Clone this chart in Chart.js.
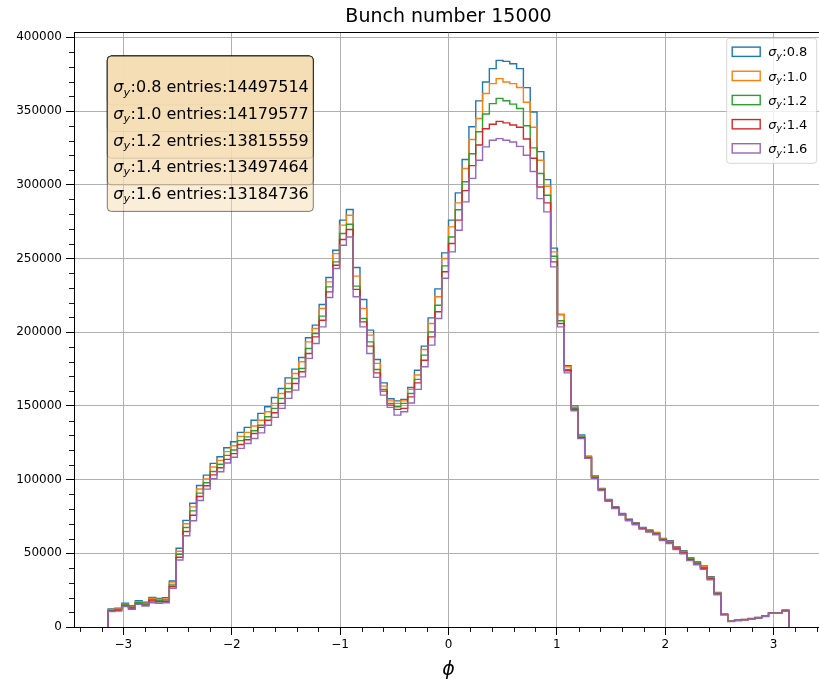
<!DOCTYPE html>
<html>
<head>
<meta charset="utf-8">
<script src="https://cdn.jsdelivr.net/npm/chart.js@4.4.1/dist/chart.umd.min.js"></script>
<style>
  html, body { margin: 0; padding: 0; background: #fff; overflow: hidden; }
  #wrap { position: absolute; left: 0; top: 0; width: 823px; height: 681px; }
</style>
</head>
<body>
<div id="wrap"><canvas id="hist" width="823" height="681"></canvas></div>
<script>
// histogram of phi, 100 bins over [-pi, pi]
const NBINS = 100;
const PHI_MIN = -Math.PI;
const PHI_MAX = Math.PI;

const titleText = "Bunch number 15000";
const sigmaLabels = ["0.8", "1.0", "1.2", "1.4", "1.6"];
const entries = ["14497514", "14179577", "13815559", "13497464", "13184736"];
const colors = ["#1f77b4", "#ff7f0e", "#2ca02c", "#d62728", "#9467bd"];

const xTicks = [-3, -2, -1, 0, 1, 2, 3];
const yTicks = [0, 50000, 100000, 150000, 200000, 250000, 300000, 350000, 400000];

const sigma08 = [12200,12700,16100,14500,17900,16800,20100,19400,19900,31200,
  53400,72300,83900,96000,103000,111000,115500,121600,125700,132000,
  135400,140300,144900,149400,155700,161800,169000,174900,182800,196200,
  204800,218800,237100,255600,276000,283200,243900,222200,201400,181500,
  165600,154800,153400,154400,162500,174200,190500,209700,229400,253800,
  276000,294500,317100,339300,356900,369700,378800,384400,383700,382100,
  378800,365900,349400,322500,303500,257000,212000,177200,150000,130200,
  115900,102400,94000,86600,81600,77100,73200,70700,67600,65800,
  64200,60100,58500,54400,51700,47000,44300,41400,34100,23500,
  8800,4000,4700,5200,5800,6500,7500,9700,9700,11500];

const sigma10 = [11700,12200,15400,14000,17100,16100,19300,18700,19100,29900,
  51400,70000,81500,93600,100500,108500,113000,119000,123000,129300,
  132000,136300,140300,146000,151700,158400,165200,172000,179900,193400,
  202500,216100,234100,253300,272600,279300,238000,216100,198000,178800,
  163400,153400,151700,153400,161200,170900,188200,205900,224000,250000,
  271400,287700,311000,330700,344900,361900,368600,372000,369700,368600,
  366000,356000,339000,316600,299000,254500,212000,176500,149000,129500,
  115500,102000,93600,86300,81300,76900,72900,70400,67400,65500,
  63900,59800,58100,54100,51300,46600,43900,40900,33600,23100,
  8700,3900,4600,5100,5700,6400,7400,9600,9600,11300];

const sigma12 = [11200,11800,14900,13400,16500,15400,18500,17900,18300,28500,
  49400,67500,78800,90800,97900,105500,110400,116400,120100,126400,
  129000,133100,136900,142600,148300,155100,161800,168600,175400,188900,
  199100,210900,230700,247700,266900,273200,231200,209300,193400,174700,
  161200,151700,149400,151700,158400,168000,184400,200200,218300,245000,
  264600,283000,302000,321000,336000,348000,355000,358600,357000,354700,
  351700,340000,325000,307600,292900,251500,207700,174700,148300,129000,
  115000,101600,93300,86000,81000,76600,72700,70100,67100,65200,
  63500,59400,57600,53600,50800,46100,43400,40300,33100,22700,
  8500,3900,4500,5000,5600,6300,7300,9500,9500,11100];

const sigma14 = [10800,11300,14300,12700,15800,14700,17600,17100,17400,27300,
  47300,64800,75800,88500,95800,103200,108000,113700,117600,123800,
  127000,131300,135400,140300,145300,151700,159500,165200,173100,185500,
  196800,208100,227300,245400,262900,269600,229000,207000,190500,172400,
  160000,150500,147600,148300,156100,165600,181000,196800,213800,241000,
  260100,276000,296000,313000,327000,338000,341000,343000,342000,340500,
  339000,331000,318000,298500,287700,247700,205900,173800,147600,128400,
  114700,101200,92900,85700,80700,76300,72400,69800,66800,64800,
  63100,59000,57100,53100,50200,45600,42800,39700,32600,22300,
  8400,3800,4400,4900,5500,6200,7200,9400,9400,10900];

const sigma16 = [10400,10800,13800,12000,15400,14200,16500,16100,16500,26200,
  45400,61900,72100,85800,93500,100600,105300,111200,115100,121200,
  124500,127900,131700,136900,142200,148300,155100,160700,169700,182200,
  192300,203600,223500,243200,259000,264600,224000,203600,185500,169300,
  157300,149000,143700,146000,152000,161200,176500,191200,209300,236600,
  254500,269100,288400,304300,316600,325700,330200,331300,330200,329000,
  326000,320000,309000,290600,281600,244300,203600,172400,146700,127800,
  114400,100800,92500,85300,80300,76000,72100,69400,66400,64400,
  62600,58600,56600,52600,49600,45000,42200,39100,32000,21900,
  8200,3700,4300,4800,5400,6100,7100,9300,9300,10700];

const series = [sigma08, sigma10, sigma12, sigma14, sigma16];

const edges = Array.from({ length: NBINS + 1 }, (_, i) => PHI_MIN + i * (PHI_MAX - PHI_MIN) / NBINS);

// outline like matplotlib histtype="step": up at the first edge, down at the last
function stepPoints(values) {
  const pts = [{ x: edges[0], y: 0 }];
  values.forEach((v, i) => pts.push({ x: edges[i], y: v }));
  pts.push({ x: edges[NBINS], y: 0 });
  return pts;
}

const xMargin = 0.05 * (PHI_MAX - PHI_MIN);
const yMax = 1.05 * Math.max(...series.map(s => Math.max(...s)));

function fmtTick(v) {
  return v < 0 ? "\u2212" + Math.abs(v) : String(v);
}

// sigma_y label the way mathtext draws it
function drawSigma(ctx, x, y, size, rest) {
  ctx.textAlign = "left";
  ctx.textBaseline = "alphabetic";
  const base = y + size * 0.36;
  ctx.font = "italic " + size + "px 'DejaVu Sans'";
  ctx.fillText("\u03c3", x, base);
  x += ctx.measureText("\u03c3").width;
  const sub = size * 0.7;
  ctx.font = "italic " + sub + "px 'DejaVu Sans'";
  ctx.fillText("y", x, base + size * 0.2);
  x += ctx.measureText("y").width + 0.5;
  ctx.font = size + "px 'DejaVu Sans'";
  ctx.fillText(rest, x, base);
}

function roundRect(ctx, x, y, w, h, r) {
  ctx.beginPath();
  ctx.moveTo(x + r, y);
  ctx.lineTo(x + w - r, y);
  ctx.quadraticCurveTo(x + w, y, x + w, y + r);
  ctx.lineTo(x + w, y + h - r);
  ctx.quadraticCurveTo(x + w, y + h, x + w - r, y + h);
  ctx.lineTo(x + r, y + h);
  ctx.quadraticCurveTo(x, y + h, x, y + h - r);
  ctx.lineTo(x, y + r);
  ctx.quadraticCurveTo(x, y, x + r, y);
  ctx.closePath();
}

const decor = {
  id: "decor",
  afterDraw(chart) {
    const { ctx, chartArea: a, scales } = chart;
    const xs = scales.x, ys = scales.y;
    ctx.save();

    // top spine
    ctx.strokeStyle = "#000";
    ctx.lineWidth = 1;
    ctx.beginPath();
    ctx.moveTo(a.left, Math.round(a.top) + 0.5);
    ctx.lineTo(a.right, Math.round(a.top) + 0.5);
    ctx.stroke();

    // minor ticks
    ctx.lineWidth = 0.9;
    ctx.beginPath();
    for (let k = -17; k <= 17; k++) {
      if (k % 5 === 0) continue;
      const px = Math.round(xs.getPixelForValue(k / 5)) + 0.5;
      ctx.moveTo(px, a.bottom);
      ctx.lineTo(px, a.bottom + 5);
    }
    for (let k = 1; k * 10000 < yMax; k++) {
      if (k % 5 === 0) continue;
      const py = Math.round(ys.getPixelForValue(k * 10000)) + 0.5;
      ctx.moveTo(a.left - 5, py);
      ctx.lineTo(a.left, py);
    }
    ctx.stroke();

    // title and x label
    ctx.fillStyle = "#000";
    ctx.textAlign = "center";
    ctx.textBaseline = "middle";
    ctx.font = "19px 'DejaVu Sans'";
    ctx.fillText(titleText, (a.left + a.right) / 2, 17);
    ctx.font = "italic 19px 'DejaVu Sans'";
    ctx.fillText("\u03d5", (a.left + a.right) / 2, 670);

    // stacked info boxes (wheat, alpha 0.5)
    const bx = a.left + 33.3, by = a.top + 24, bw = 206, lineH = 26.6;
    for (let k = 0; k < series.length; k++) {
      const h = 49 + lineH * k;
      roundRect(ctx, bx, by, bw, h, 4);
      ctx.fillStyle = "rgba(245, 222, 179, 0.5)";
      ctx.fill();
      ctx.strokeStyle = "rgba(0, 0, 0, 0.5)";
      ctx.lineWidth = 1;
      ctx.stroke();
    }
    ctx.fillStyle = "#000";
    for (let k = 0; k < series.length; k++) {
      drawSigma(ctx, bx + 6, by + 30.7 + lineH * k, 16,
        ":" + sigmaLabels[k] + " entries:" + entries[k]);
    }

    // legend
    const lr = a.right - 6.3, lt = a.top + 6.3;
    const lw = 90, lh = 125;
    roundRect(ctx, lr - lw, lt, lw, lh, 3);
    ctx.fillStyle = "rgba(255, 255, 255, 0.8)";
    ctx.fill();
    ctx.strokeStyle = "rgba(204, 204, 204, 0.8)";
    ctx.lineWidth = 1;
    ctx.stroke();
    for (let k = 0; k < series.length; k++) {
      const cy = lt + 13.4 + 24.15 * k;
      ctx.strokeStyle = colors[k];
      ctx.lineWidth = 1.4;
      ctx.strokeRect(lr - lw + 5.5, cy - 4.6, 28, 9.3);
      ctx.fillStyle = "#000";
      drawSigma(ctx, lr - lw + 41.5, cy, 13, ":" + sigmaLabels[k]);
    }
    ctx.restore();
  }
};

new Chart(document.getElementById("hist"), {
  type: "line",
  data: {
    datasets: series.map((vals, i) => ({
      label: "sigma_y:" + sigmaLabels[i],
      data: stepPoints(vals),
      borderColor: colors[i],
      borderWidth: 1.4,
      pointRadius: 0,
      stepped: "before",
      fill: false,
      order: series.length - i
    }))
  },
  options: {
    responsive: false,
    animation: false,
    devicePixelRatio: 1,
    layout: { padding: { top: 32, left: 0, right: 0, bottom: 0 } },
    plugins: {
      legend: { display: false },
      title: { display: false },
      tooltip: { enabled: false }
    },
    scales: {
      x: {
        type: "linear",
        min: PHI_MIN - xMargin,
        max: PHI_MAX + xMargin,
        afterBuildTicks: s => { s.ticks = xTicks.map(v => ({ value: v })); },
        afterFit: s => { s.height = 54; },
        grid: { color: "#b0b0b0", lineWidth: 1, tickLength: 8, tickColor: "#000", tickWidth: 1 },
        border: { color: "#000", width: 1 },
        ticks: {
          color: "#000", font: { family: "DejaVu Sans", size: 12 },
          padding: 3, maxRotation: 0, autoSkip: false, callback: fmtTick
        }
      },
      y: {
        type: "linear",
        min: 0,
        max: yMax,
        afterBuildTicks: s => { s.ticks = yTicks.map(v => ({ value: v })); },
        afterFit: s => { s.width = 74; },
        grid: { color: "#b0b0b0", lineWidth: 1, tickLength: 8, tickColor: "#000", tickWidth: 1 },
        border: { color: "#000", width: 1 },
        ticks: {
          color: "#000", font: { family: "DejaVu Sans", size: 12 },
          padding: 4, autoSkip: false, callback: fmtTick
        }
      }
    }
  },
  plugins: [decor]
});
</script>
</body>
</html>
